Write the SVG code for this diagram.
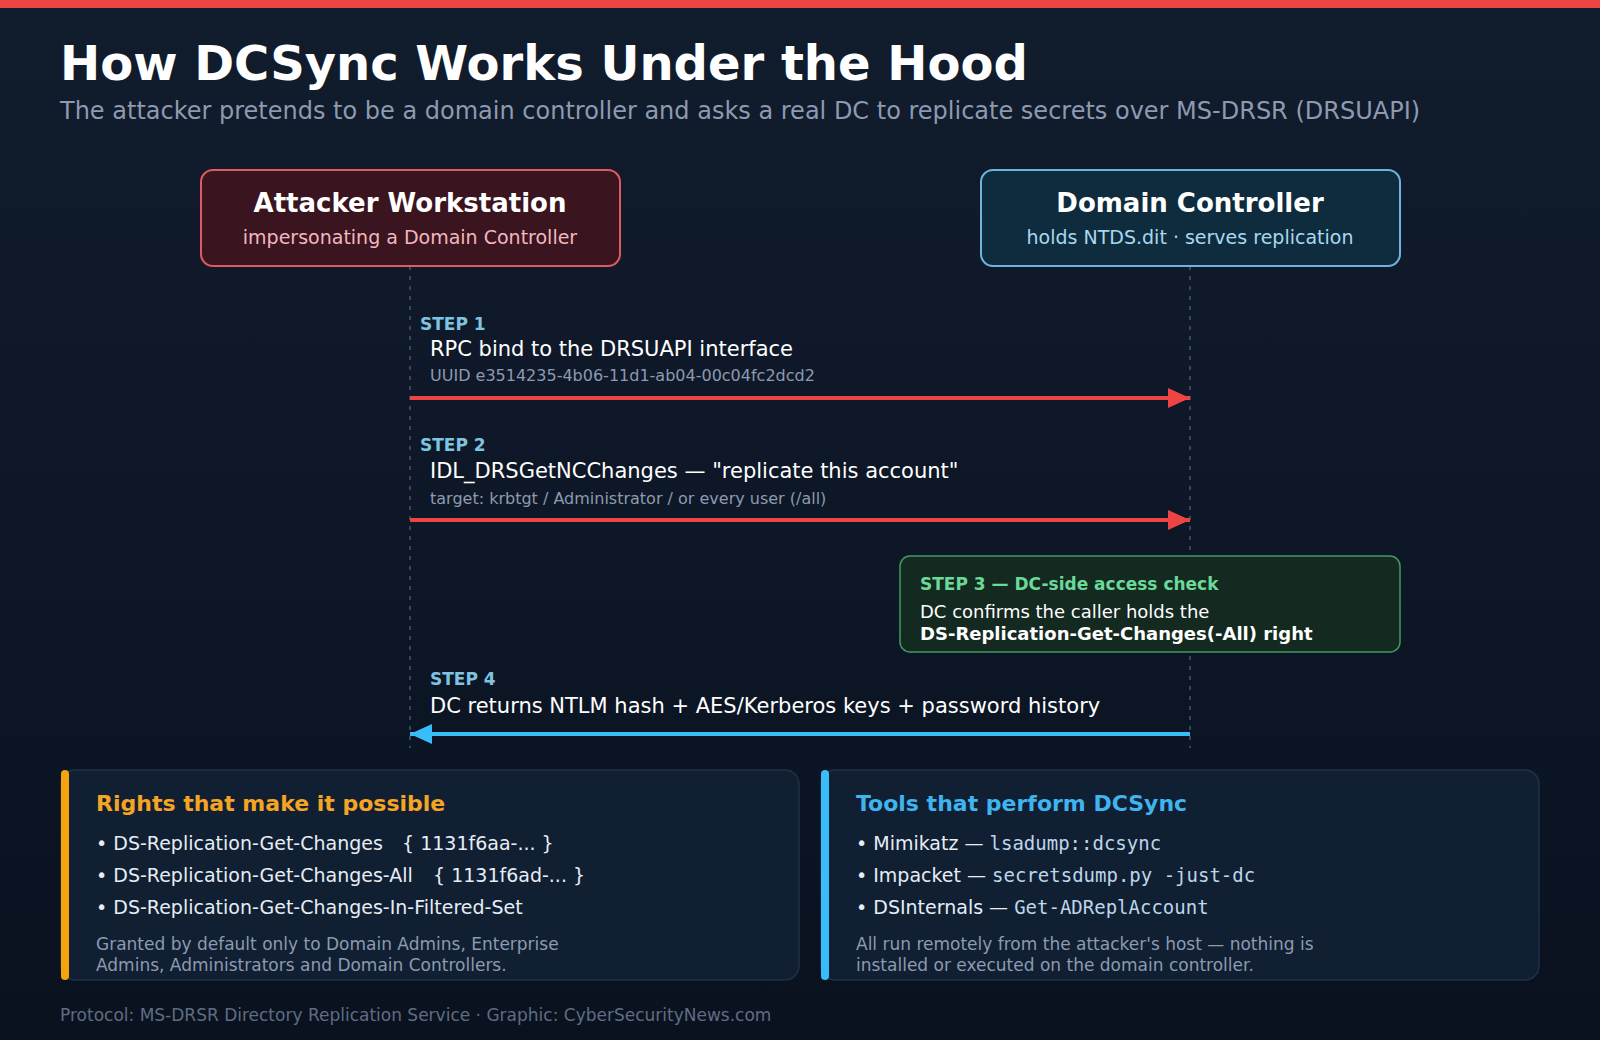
<svg xmlns="http://www.w3.org/2000/svg" width="1600" height="1040" viewBox="0 0 1600 1040">
<defs>
<linearGradient id="bg" x1="0" y1="0" x2="0" y2="1">
<stop offset="0" stop-color="#111c2d"/>
<stop offset="1" stop-color="#0a1220"/>
</linearGradient>
<marker id="arrR" markerWidth="22" markerHeight="20" refX="22" refY="10" orient="auto" markerUnits="userSpaceOnUse">
<path d="M0,0 L22,10 L0,20 Z" fill="#ef4444"/>
</marker>
<marker id="arrB" markerWidth="22" markerHeight="20" refX="22" refY="10" orient="auto" markerUnits="userSpaceOnUse">
<path d="M0,0 L22,10 L0,20 Z" fill="#38bdf8"/>
</marker>
</defs>
<style>
text{font-family:"DejaVu Sans","Liberation Sans",sans-serif;}
.mono{font-family:"DejaVu Sans Mono","Liberation Mono",monospace;fill:#bcd6ea;}
.title{font-size:48px;font-weight:bold;fill:#ffffff;}
.sub{font-size:24px;fill:#8d9ab0;}
.nt{font-size:26px;font-weight:bold;fill:#ffffff;text-anchor:middle;}
.step{font-size:17px;font-weight:bold;fill:#7ec4e0;}
.msg{font-size:21px;fill:#ffffff;}
.small{font-size:16px;fill:#8d9ab0;}
.life{stroke:#475569;stroke-width:1.5;stroke-dasharray:4 6;}
.ptitle{font-size:22px;font-weight:bold;}
.bul{font-size:19px;fill:#e6edf5;}
.note{font-size:17px;fill:#8d9ab0;}
</style>
<rect width="1600" height="1040" fill="url(#bg)"/>
<rect width="1600" height="8" fill="#ef4444"/>
<text class="title" x="60" y="80">How DCSync Works Under the Hood</text>
<text class="sub" x="60" y="119">The attacker pretends to be a domain controller and asks a real DC to replicate secrets over MS-DRSR (DRSUAPI)</text>

<g id="connectors">
<line class="life" x1="410" y1="266" x2="410" y2="748"/>
<line class="life" x1="1190" y1="266" x2="1190" y2="748"/>
<line x1="410" y1="398" x2="1190" y2="398" stroke="#ef4444" stroke-width="4" marker-end="url(#arrR)"/>
<line x1="410" y1="520" x2="1190" y2="520" stroke="#ef4444" stroke-width="4" marker-end="url(#arrR)"/>
<line x1="1190" y1="734" x2="410" y2="734" stroke="#38bdf8" stroke-width="4" marker-end="url(#arrB)"/>
</g>

<g id="attacker">
<rect x="201" y="170" width="419" height="96" rx="12" fill="#3a141e" stroke="#e05a63" stroke-width="2"/>
<text class="nt" x="410" y="212">Attacker Workstation</text>
<text x="410" y="244" font-size="19" fill="#f2b8bf" text-anchor="middle">impersonating a Domain Controller</text>
</g>

<g id="dc">
<rect x="981" y="170" width="419" height="96" rx="12" fill="#0f2c3e" stroke="#6fb4e0" stroke-width="2"/>
<text class="nt" x="1190" y="212">Domain Controller</text>
<text x="1190" y="244" font-size="19" fill="#a9d8ee" text-anchor="middle">holds NTDS.dit · serves replication</text>
</g>

<g id="step1">
<text class="step" x="420" y="330">STEP 1</text>
<text class="msg" x="430" y="356">RPC bind to the DRSUAPI interface</text>
<text class="small" x="430" y="381">UUID e3514235-4b06-11d1-ab04-00c04fc2dcd2</text>
</g>

<g id="step2">
<text class="step" x="420" y="451">STEP 2</text>
<text class="msg" x="430" y="478">IDL_DRSGetNCChanges — "replicate this account"</text>
<text class="small" x="430" y="504">target: krbtgt / Administrator / or every user (/all)</text>
</g>

<g id="step3">
<rect x="900" y="556" width="500" height="96" rx="10" fill="#14291f" stroke="#3f9a64" stroke-width="1.5"/>
<text x="920" y="590" font-size="17" font-weight="bold" fill="#6ad99a">STEP 3 — DC-side access check</text>
<text x="920" y="618" font-size="18" fill="#ffffff">DC confirms the caller holds the</text>
<text x="920" y="640" font-size="18" font-weight="bold" fill="#ffffff">DS-Replication-Get-Changes(-All) right</text>
</g>

<g id="step4">
<text class="step" x="430" y="685">STEP 4</text>
<text class="msg" x="430" y="713">DC returns NTLM hash + AES/Kerberos keys + password history</text>
</g>

<g id="rights">
<rect x="61" y="770" width="738" height="210" rx="14" fill="#111f33" stroke="#1f3147" stroke-width="1.5"/>
<rect x="61" y="770" width="8" height="210" rx="4" fill="#f5a30f"/>
<text class="ptitle" x="96" y="811" fill="#f5a524">Rights that make it possible</text>
<text class="bul" x="96" y="850">• DS-Replication-Get-Changes<tspan x="402">{ 1131f6aa-... }</tspan></text>
<text class="bul" x="96" y="882">• DS-Replication-Get-Changes-All<tspan x="433">{ 1131f6ad-... }</tspan></text>
<text class="bul" x="96" y="914">• DS-Replication-Get-Changes-In-Filtered-Set</text>
<text class="note" x="96" y="950">Granted by default only to Domain Admins, Enterprise</text>
<text class="note" x="96" y="971">Admins, Administrators and Domain Controllers.</text>
</g>

<g id="tools">
<rect x="821" y="770" width="718" height="210" rx="14" fill="#111f33" stroke="#1f3147" stroke-width="1.5"/>
<rect x="821" y="770" width="8" height="210" rx="4" fill="#38bdf8"/>
<text class="ptitle" x="856" y="811" fill="#3fb4ee">Tools that perform DCSync</text>
<text class="bul" x="856" y="850">• Mimikatz — <tspan class="mono">lsadump::dcsync</tspan></text>
<text class="bul" x="856" y="882">• Impacket — <tspan class="mono">secretsdump.py -just-dc</tspan></text>
<text class="bul" x="856" y="914">• DSInternals — <tspan class="mono">Get-ADReplAccount</tspan></text>
<text class="note" x="856" y="950">All run remotely from the attacker's host — nothing is</text>
<text class="note" x="856" y="971">installed or executed on the domain controller.</text>
</g>

<text x="60" y="1021" font-size="17" fill="#5f6d82">Protocol: MS-DRSR Directory Replication Service · Graphic: CyberSecurityNews.com</text>
</svg>
